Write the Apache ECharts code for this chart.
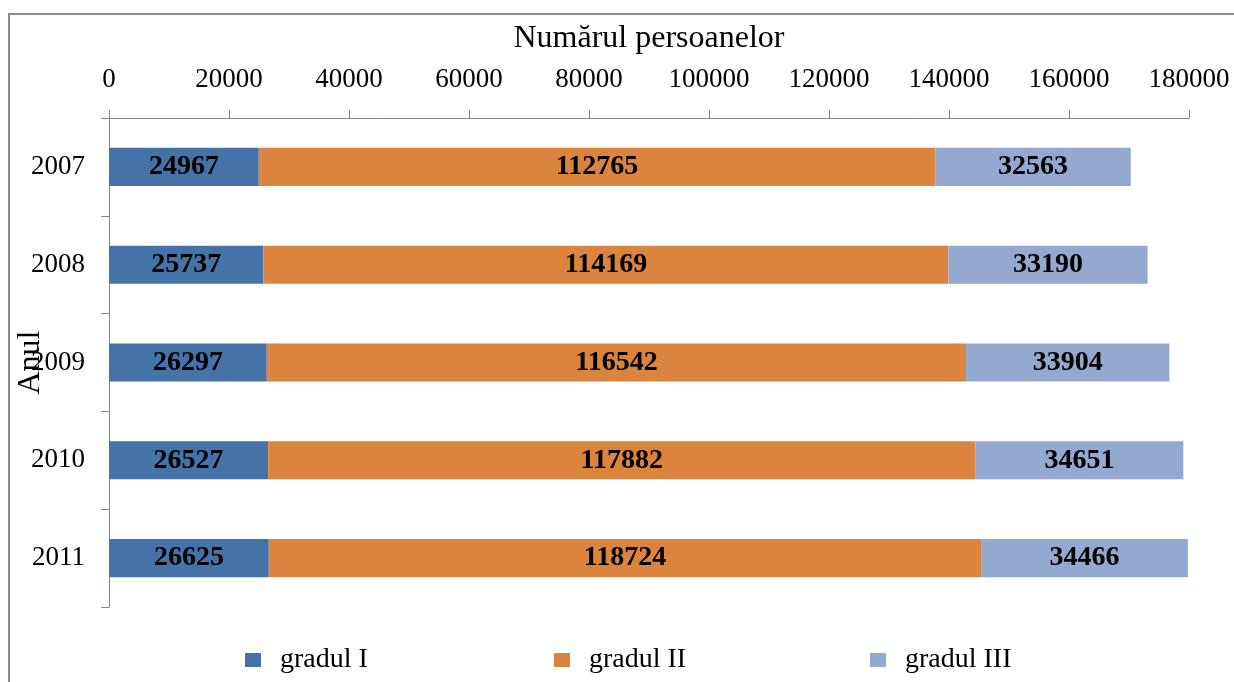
<!DOCTYPE html>
<html>
<head>
<meta charset="utf-8">
<script src="https://cdn.jsdelivr.net/npm/echarts@6/dist/echarts.min.js"></script>
<style>
html,body{margin:0;padding:0;background:#fff;}
#chart{width:1234px;height:682px;}
</style>
</head>
<body>
<div id="chart"></div>
<script>
const years = ['2007', '2008', '2009', '2010', '2011'];
const seriesNames = ['gradul I', 'gradul II', 'gradul III'];
const gradulI = [24967, 25737, 26297, 26527, 26625];
const gradulII = [112765, 114169, 116542, 117882, 118724];
const gradulIII = [32563, 33190, 33904, 34651, 34466];
const colors = ['#4572A7', '#DB843D', '#93A9CF'];
const xTitle = 'Numărul persoanelor';
const yTitle = 'Anul';

const font = '"Liberation Serif", "Times New Roman", serif';
const axisGray = '#868686';

const chart = echarts.init(document.getElementById('chart'));
const values = [gradulI, gradulII, gradulIII];
const legendLefts = [240, 549, 865];

chart.setOption({
  animation: false,
  backgroundColor: '#fff',
  textStyle: { fontFamily: font },
  graphic: [{
    type: 'rect',
    shape: { x: 9, y: 14, width: 1400, height: 800 },
    style: { fill: 'none', stroke: '#8a8a8a', lineWidth: 2 },
    silent: true
  }],
  grid: { left: 109, right: 45, top: 118, bottom: 75, containLabel: false, outerBoundsMode: 'none' },
  legend: seriesNames.map((n, i) => ({
    data: [n],
    left: legendLefts[i],
    top: 641,
    itemWidth: 16,
    itemHeight: 14,
    icon: 'rect',
    textStyle: { fontFamily: font, fontSize: 28, color: '#000', padding: [0, 0, 0, 14] }
  })),
  xAxis: {
    type: 'value',
    position: 'top',
    min: 0,
    max: 180000,
    interval: 20000,
    name: xTitle,
    nameLocation: 'middle',
    nameGap: 63,
    nameMoveOverlap: false,
    nameTextStyle: { fontFamily: font, fontSize: 32, color: '#000' },
    axisLine: { show: true, lineStyle: { color: axisGray, width: 1 } },
    axisTick: { show: true, inside: false, length: 8, lineStyle: { color: axisGray } },
    axisLabel: { fontFamily: font, fontSize: 27, color: '#000', margin: 25, formatter: v => String(v) },
    splitLine: { show: false }
  },
  yAxis: {
    type: 'category',
    inverse: true,
    data: years,
    name: yTitle,
    nameLocation: 'middle',
    nameGap: 62,
    nameRotate: 90,
    nameMoveOverlap: false,
    nameTextStyle: { fontFamily: font, fontSize: 32, color: '#000' },
    axisLine: { show: true, lineStyle: { color: axisGray, width: 1 } },
    axisTick: { show: true, inside: false, length: 8, lineStyle: { color: axisGray } },
    axisLabel: { fontFamily: font, fontSize: 27, color: '#000', margin: 24 }
  },
  series: seriesNames.map((n, i) => ({
    name: n,
    type: 'bar',
    stack: 'total',
    barWidth: '39%',
    data: values[i],
    itemStyle: { color: colors[i] },
    label: {
      show: true,
      position: 'inside',
      fontFamily: font,
      fontSize: 28,
      fontWeight: 'bold',
      color: '#000'
    }
  }))
});
</script>
</body>
</html>
